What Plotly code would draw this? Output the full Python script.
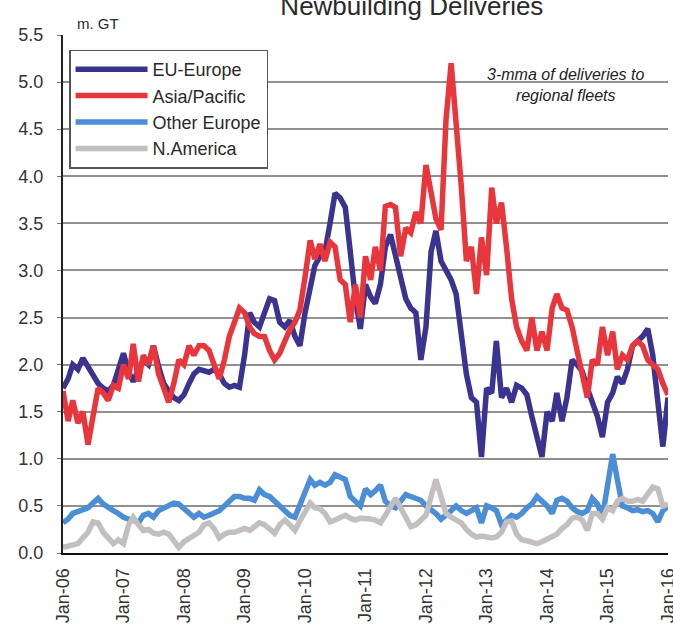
import pandas as pd
import plotly.graph_objects as go

months = pd.date_range("2006-01-01", periods=121, freq="MS")

eu_europe = [
    1.75, 1.85, 2.0, 1.95, 2.07, 1.98, 1.9, 1.8, 1.75, 1.72, 1.78, 1.95,
    2.12, 1.92, 1.82, 1.95, 2.05, 2.0, 2.2, 1.98, 1.8, 1.72, 1.65, 1.62,
    1.68, 1.8, 1.9, 1.95, 1.93, 1.92, 1.95, 1.9, 1.8, 1.76, 1.78, 1.76,
    2.1, 2.55, 2.45, 2.4, 2.55, 2.7, 2.68, 2.45, 2.4, 2.47, 2.3, 2.2,
    2.55, 2.85, 3.05, 3.15, 3.2, 3.5, 3.82, 3.77, 3.67, 3.2, 2.7, 2.38,
    2.85, 2.72, 2.65, 2.85, 3.25, 3.38, 3.15, 2.9, 2.7, 2.6, 2.55, 2.05,
    2.4, 3.2, 3.42, 3.1, 3.0, 2.9, 2.75, 2.35, 1.9, 1.65, 1.6, 1.02,
    1.75, 1.7, 2.25, 1.65, 1.75, 1.6, 1.78, 1.75, 1.68, 1.45, 1.2, 1.02,
    1.5, 1.4, 1.7, 1.4, 1.65, 2.05, 2.0, 1.93, 1.75, 1.62, 1.45, 1.23,
    1.6, 1.7, 1.87, 1.8, 1.95, 2.2, 2.25, 2.3, 2.38, 2.1, 1.6, 1.13,
    1.65,
]

asia_pacific = [
    1.72, 1.4, 1.62, 1.38, 1.5, 1.15, 1.45, 1.75, 1.7, 1.62, 1.78, 1.75,
    2.0, 1.85, 2.22, 1.82, 2.1, 2.0, 2.2, 1.9, 1.75, 1.6, 1.8, 2.05,
    2.0, 2.2, 2.1, 2.2, 2.2, 2.15, 2.0, 1.85, 2.05, 2.3, 2.45, 2.6,
    2.55, 2.4, 2.33, 2.3, 2.3, 2.15, 2.05, 2.12, 2.25, 2.37, 2.45, 2.58,
    2.93, 3.32, 3.12, 3.28, 3.1, 3.3, 3.25, 2.9, 2.85, 2.45, 2.85, 2.5,
    3.15, 2.9, 3.25, 3.0, 3.68, 3.7, 3.67, 3.15, 3.45, 3.4, 3.62, 3.5,
    4.12, 3.85, 3.55, 3.43, 4.6, 5.2, 4.6, 3.9, 3.1, 3.25, 2.75, 3.35,
    2.95, 3.88, 3.5, 3.72, 3.25, 2.7, 2.4, 2.25, 2.15, 2.5, 2.15, 2.35,
    2.15, 2.6, 2.75, 2.6, 2.58, 2.4, 2.15, 1.9, 1.65, 2.05, 2.0, 2.4,
    2.1, 2.35, 1.95, 2.1, 2.05, 2.2, 2.25, 2.2, 2.05, 2.0, 1.95, 1.8,
    1.68,
]

other_europe = [
    0.32, 0.36, 0.42, 0.44, 0.45, 0.48, 0.53, 0.58, 0.52, 0.48, 0.45, 0.42,
    0.38, 0.36, 0.35, 0.32, 0.4, 0.42, 0.38, 0.45, 0.48, 0.5, 0.53, 0.52,
    0.47, 0.42, 0.38, 0.42, 0.38, 0.4, 0.42, 0.45, 0.5, 0.55, 0.6, 0.6,
    0.58, 0.58, 0.56, 0.67, 0.62, 0.6, 0.55, 0.5, 0.45, 0.4, 0.38, 0.5,
    0.62, 0.78, 0.72, 0.75, 0.72, 0.75, 0.83, 0.8, 0.78, 0.6, 0.55, 0.5,
    0.68, 0.62, 0.66, 0.72, 0.55, 0.5, 0.48, 0.55, 0.62, 0.6, 0.58, 0.56,
    0.5, 0.46, 0.42, 0.36, 0.4, 0.45, 0.5, 0.45, 0.42, 0.45, 0.48, 0.32,
    0.5, 0.48, 0.45, 0.3, 0.36, 0.4, 0.38, 0.42, 0.48, 0.52, 0.6, 0.55,
    0.5, 0.42, 0.56, 0.58, 0.55, 0.48, 0.44, 0.42, 0.45, 0.58, 0.52, 0.38,
    0.68, 1.05, 0.78, 0.5, 0.48, 0.45, 0.46, 0.44, 0.45, 0.42, 0.33, 0.45,
    0.5,
]

n_america = [
    0.06, 0.07, 0.09, 0.1, 0.16, 0.22, 0.33, 0.32, 0.22, 0.15, 0.1, 0.14,
    0.1, 0.3, 0.38, 0.3, 0.24, 0.25, 0.21, 0.2, 0.22, 0.2, 0.12, 0.06,
    0.12, 0.15, 0.18, 0.22, 0.3, 0.32, 0.26, 0.16, 0.2, 0.22, 0.22, 0.24,
    0.26, 0.24, 0.28, 0.32, 0.3, 0.25, 0.21, 0.3, 0.35, 0.3, 0.24, 0.34,
    0.45, 0.53, 0.48, 0.47, 0.42, 0.33, 0.35, 0.38, 0.4, 0.37, 0.35, 0.37,
    0.37, 0.36, 0.35, 0.32, 0.4, 0.48, 0.58, 0.48, 0.38, 0.28, 0.3, 0.35,
    0.4, 0.6, 0.78, 0.6, 0.42, 0.38, 0.35, 0.32, 0.25, 0.2, 0.17, 0.18,
    0.17, 0.16, 0.17, 0.22, 0.33, 0.34, 0.2, 0.14, 0.13, 0.12, 0.1, 0.12,
    0.15, 0.17, 0.2, 0.26, 0.3, 0.37, 0.38, 0.35, 0.24, 0.42, 0.42, 0.36,
    0.48, 0.45, 0.55, 0.58, 0.55, 0.55, 0.57, 0.55, 0.62, 0.7, 0.68, 0.5,
    0.52,
]

series_names = ["EU-Europe", "Asia/Pacific", "Other Europe", "N.America"]
series_values = [eu_europe, asia_pacific, other_europe, n_america]
series_colors = ["#3a338f", "#e8363c", "#4a8ed8", "#c3bfbf"]

tick_dates = pd.date_range("2006-01-01", "2016-01-01", freq="12MS")
tick_labels = ["Jan-06", "Jan-07", "Jan-08", "Jan-09", "Jan-10", "Jan-11",
               "Jan-12", "Jan-13", "Jan-14", "Jan-15", "Jan-16"]

fig = go.Figure()
for name, vals, col in zip(series_names, series_values, series_colors):
    fig.add_trace(go.Scatter(
        x=months, y=vals, name=name, mode="lines",
        line=dict(color=col, width=5.5, shape="linear"),
    ))

fig.update_layout(
    width=673, height=628,
    margin=dict(l=63, r=5, t=35, b=75, autoexpand=False),
    paper_bgcolor="white", plot_bgcolor="white",
    font=dict(family="Liberation Sans, Arial, sans-serif", color="#2a2a2a"),
    title=dict(text="Newbuilding Deliveries", x=0.612, xanchor="center",
               yref="container", y=0.99, yanchor="middle",
               font=dict(size=26, color="#2a2a2a")),
    showlegend=True,
    legend=dict(x=0.01, y=0.972, xanchor="left", yanchor="top",
                bgcolor="white", bordercolor="#555555", borderwidth=1.5,
                font=dict(size=18, color="#2a2a2a"),
                tracegroupgap=0, itemwidth=72),
    xaxis=dict(
        range=[months[0], months[-1]],
        tickvals=tick_dates, ticktext=tick_labels, tickangle=-90,
        tickfont=dict(size=18, color="#333333"),
        showgrid=False, showline=True, linecolor="#111111", linewidth=2,
        ticks="", zeroline=False, ticklabelstandoff=6,
        ticklabeloverflow="allow",
    ),
    yaxis=dict(
        range=[0, 5.5], dtick=0.5, tickformat=".1f",
        tickfont=dict(size=18, color="#333333"),
        showgrid=True, gridcolor="#909090", gridwidth=1.5,
        showline=True, linecolor="#222222", linewidth=2,
        ticks="outside", ticklen=4, tickcolor="#777777",
        ticklabelstandoff=10, zeroline=False,
    ),
    annotations=[
        dict(text="m. GT", xref="paper", yref="paper", x=0.02, y=1.0,
             xanchor="left", yanchor="bottom", yshift=1, showarrow=False,
             font=dict(size=15, color="#2a2a2a")),
        dict(text="<i>3-mma of deliveries to<br>regional fleets</i>",
             xref="paper", yref="paper", x=0.83, y=0.903,
             xanchor="center", yanchor="middle", align="center",
             showarrow=False, font=dict(size=16, color="#222222")),
    ],
)

fig.write_html("out.html", config={"displayModeBar": False},
               post_script="document.body.style.margin='0';")
